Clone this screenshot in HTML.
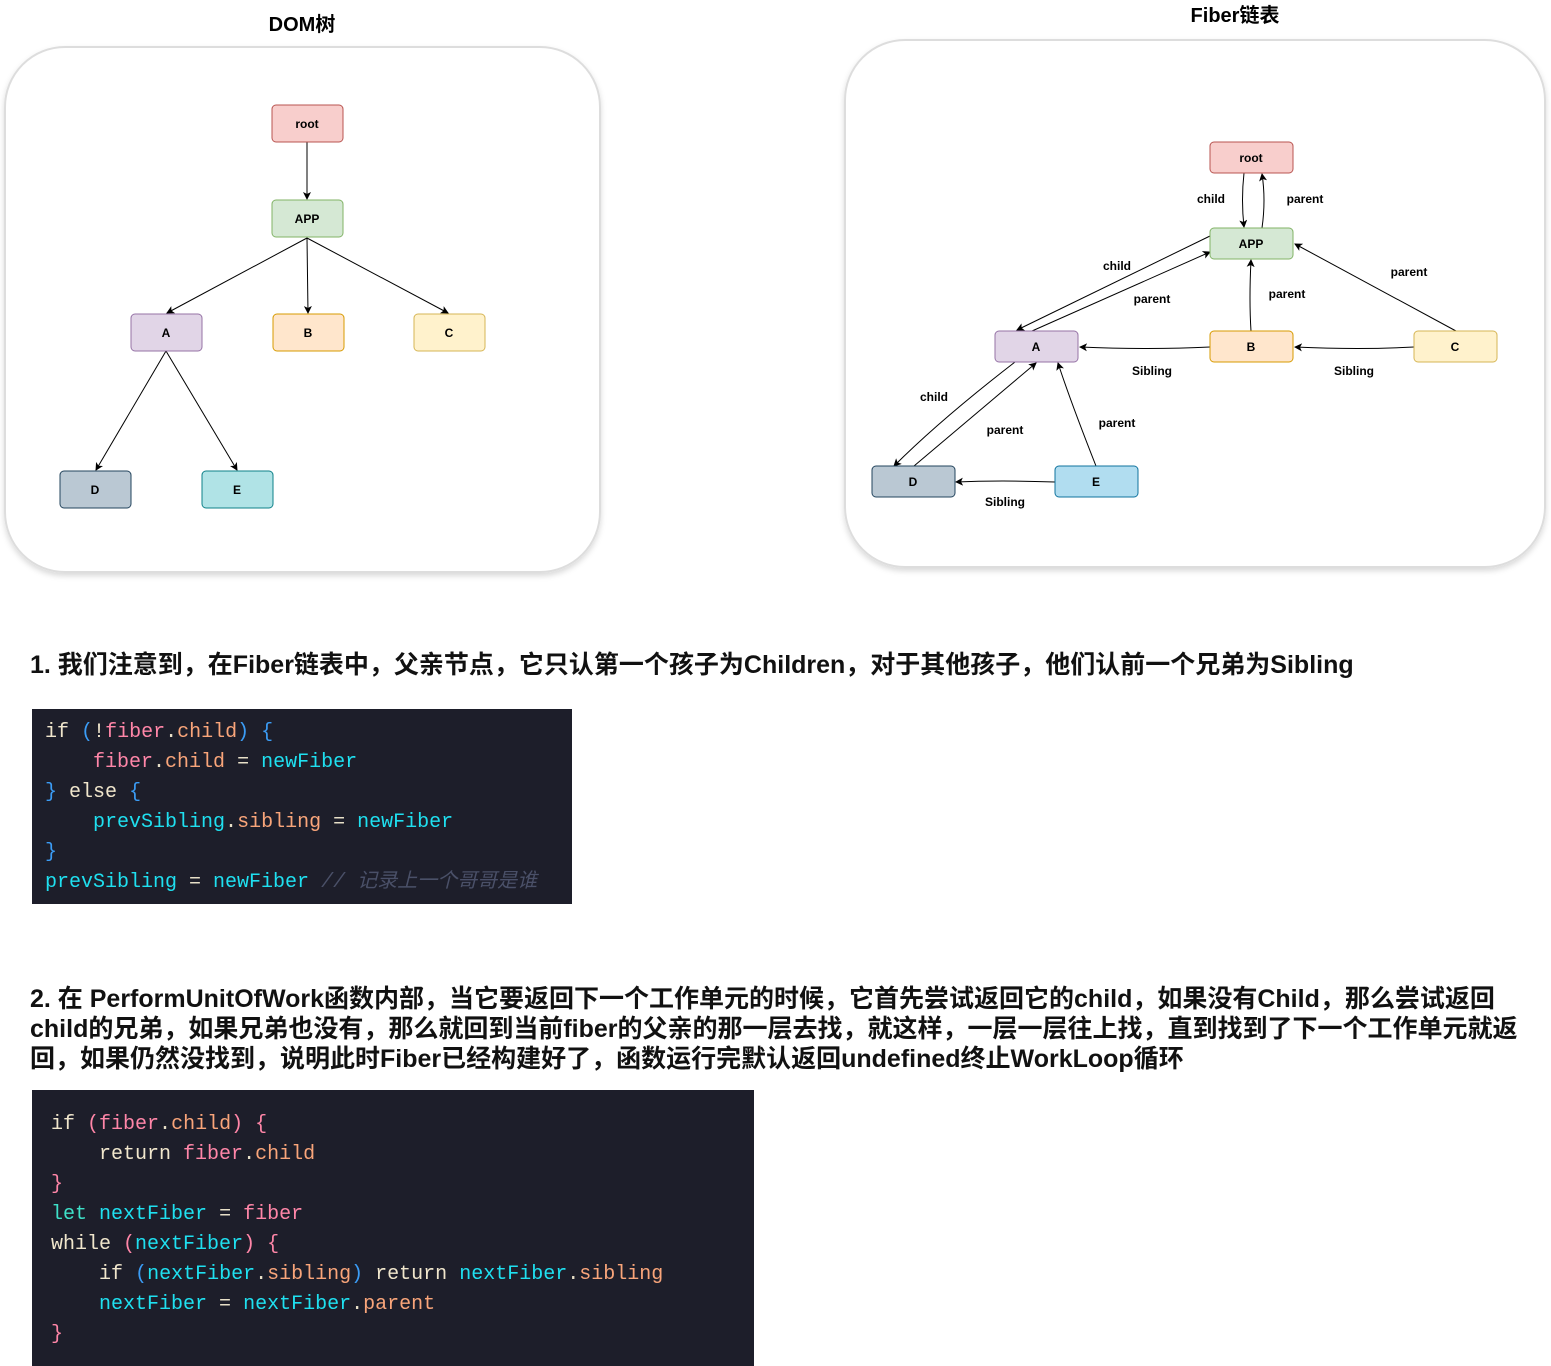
<!DOCTYPE html>
<html><head><meta charset="utf-8"><style>
body{margin:0;width:1551px;height:1366px;background:#fff;position:relative;overflow:hidden;font-family:"Liberation Sans","Noto Sans CJK SC",sans-serif}
.t{position:absolute;font-weight:bold;color:#111;font-size:25px;white-space:nowrap}
.code{position:absolute;background:#1d1e2a;font-family:"Liberation Mono","Noto Sans CJK SC",monospace;font-size:20px;line-height:30px;white-space:pre;color:#e8e0c8}
.k{color:#f0e6cc}.p{color:#ff86a8}.o{color:#f9a57a}.c{color:#1fe0f0}.b{color:#3b9cf5}.g{color:#4a5068;font-style:italic}.l{color:#3ee0c8}
</style></head><body>
<svg width="1551" height="600" style="position:absolute;left:0;top:0" font-family="Liberation Sans,sans-serif">
<defs><marker id="a" markerWidth="8" markerHeight="8" refX="7" refY="4" orient="auto"><path d="M0,0L8,4L0,8L2,4z" fill="#000"/></marker>
<filter id="s"><feDropShadow dx="0" dy="3" stdDeviation="3" flood-color="#000" flood-opacity="0.15"/></filter></defs>
<rect x="5" y="47" width="595" height="525" rx="60" fill="#fff" stroke="#ddd" stroke-width="2" filter="url(#s)"/>
<rect x="845" y="40" width="700" height="527" rx="60" fill="#fff" stroke="#ddd" stroke-width="2" filter="url(#s)"/>
<text x="302" y="31" font-size="20" font-weight="bold" text-anchor="middle" font-family="Liberation Sans,Noto Sans CJK SC,sans-serif">DOM树</text>
<text x="1235" y="22" font-size="20" font-weight="bold" text-anchor="middle" font-family="Liberation Sans,Noto Sans CJK SC,sans-serif">Fiber链表</text>
<g stroke="#000" stroke-width="1" fill="none" marker-end="url(#a)">
<line x1="307" y1="142" x2="307" y2="199"/>
<line x1="307" y1="238" x2="167" y2="313"/>
<line x1="307" y1="238" x2="308" y2="313"/>
<line x1="307" y1="238" x2="448" y2="313"/>
<line x1="166" y1="351" x2="96" y2="470"/>
<line x1="166" y1="351" x2="237" y2="470"/>
<path d="M1244,173 Q1241,200 1244,227"/>
<path d="M1262,228 Q1266,200 1262,174"/>
<path d="M1210,236 L1017,330"/>
<path d="M1032,331 L1210,252"/>
<path d="M1251,331 Q1249,300 1251,260"/>
<path d="M1456,331 L1295,244"/>
<path d="M1210,347 Q1150,350 1080,347"/>
<path d="M1414,347 Q1360,350 1295,347"/>
<path d="M1015,362 Q940,420 894,466"/>
<path d="M914,466 Q980,410 1036,363"/>
<path d="M1096,466 Q1070,400 1058,363"/>
<path d="M1055,482 Q1000,480 956,482"/>
</g>
<g font-size="12" font-weight="bold" text-anchor="middle">
<rect x="272" y="105" width="71" height="37" rx="4" fill="#f8cecc" stroke="#b85450"/><text x="307" y="128">root</text>
<rect x="272" y="200" width="71" height="37" rx="4" fill="#d5e8d4" stroke="#82b366"/><text x="307" y="223">APP</text>
<rect x="131" y="314" width="71" height="37" rx="4" fill="#e1d5e7" stroke="#9673a6"/><text x="166" y="337">A</text>
<rect x="273" y="314" width="71" height="37" rx="4" fill="#ffe6cc" stroke="#d79b00"/><text x="308" y="337">B</text>
<rect x="414" y="314" width="71" height="37" rx="4" fill="#fff2cc" stroke="#d6b656"/><text x="449" y="337">C</text>
<rect x="60" y="471" width="71" height="37" rx="4" fill="#bac8d3" stroke="#23445d"/><text x="95" y="494">D</text>
<rect x="202" y="471" width="71" height="37" rx="4" fill="#b0e3e6" stroke="#0e8088"/><text x="237" y="494">E</text>
<rect x="1210" y="142" width="83" height="31" rx="4" fill="#f8cecc" stroke="#b85450"/><text x="1251" y="162">root</text>
<rect x="1210" y="228" width="83" height="31" rx="4" fill="#d5e8d4" stroke="#82b366"/><text x="1251" y="248">APP</text>
<rect x="995" y="331" width="83" height="31" rx="4" fill="#e1d5e7" stroke="#9673a6"/><text x="1036" y="351">A</text>
<rect x="1210" y="331" width="83" height="31" rx="4" fill="#ffe6cc" stroke="#d79b00"/><text x="1251" y="351">B</text>
<rect x="1414" y="331" width="83" height="31" rx="4" fill="#fff2cc" stroke="#d6b656"/><text x="1455" y="351">C</text>
<rect x="872" y="466" width="83" height="31" rx="4" fill="#bac8d3" stroke="#23445d"/><text x="913" y="486">D</text>
<rect x="1055" y="466" width="83" height="31" rx="4" fill="#b1ddf0" stroke="#10739e"/><text x="1096" y="486">E</text>
</g>
<g font-size="12" font-weight="bold" text-anchor="middle">
<text x="1211" y="203">child</text><text x="1305" y="203">parent</text>
<text x="1117" y="270">child</text><text x="1152" y="303">parent</text>
<text x="1287" y="298">parent</text><text x="1409" y="276">parent</text>
<text x="1152" y="375">Sibling</text><text x="1354" y="375">Sibling</text>
<text x="934" y="401">child</text><text x="1005" y="434">parent</text>
<text x="1117" y="427">parent</text><text x="1005" y="506">Sibling</text>
</g>
</svg>
<div class="t" style="left:30px;top:650px;line-height:30px">1. 我们注意到，在Fiber链表中，父亲节点，它只认第一个孩子为Children，对于其他孩子，他们认前一个兄弟为Sibling</div>
<div class="code" style="left:32px;top:709px;width:540px;height:195px;padding:9px 0 0 13px;box-sizing:border-box"><span class="k">if</span> <span class="b">(</span><span class="k">!</span><span class="p">fiber</span>.<span class="o">child</span><span class="b">)</span> <span class="b">{</span>
    <span class="p">fiber</span>.<span class="o">child</span> = <span class="c">newFiber</span>
<span class="b">}</span> <span class="k">else</span> <span class="b">{</span>
    <span class="c">prevSibling</span>.<span class="o">sibling</span> = <span class="c">newFiber</span>
<span class="b">}</span>
<span class="c">prevSibling</span> = <span class="c">newFiber</span> <span class="g">// 记录上一个哥哥是谁</span></div>
<div class="t" style="left:30px;top:984px;line-height:30px">2. 在 PerformUnitOfWork函数内部，当它要返回下一个工作单元的时候，它首先尝试返回它的child，如果没有Child，那么尝试返回<br>child的兄弟，如果兄弟也没有，那么就回到当前fiber的父亲的那一层去找，就这样，一层一层往上找，直到找到了下一个工作单元就返<br>回，如果仍然没找到，说明此时Fiber已经构建好了，函数运行完默认返回undefined终止WorkLoop循环</div>
<div class="code" style="left:32px;top:1090px;width:722px;height:276px;padding:20px 0 0 19px;box-sizing:border-box"><span class="k">if</span> <span class="p">(fiber</span>.<span class="o">child</span><span class="p">)</span> <span class="p">{</span>
    <span class="k">return</span> <span class="p">fiber</span>.<span class="o">child</span>
<span class="p">}</span>
<span class="l">let</span> <span class="c">nextFiber</span> = <span class="p">fiber</span>
<span class="k">while</span> <span class="p">(</span><span class="c">nextFiber</span><span class="p">)</span> <span class="p">{</span>
    <span class="k">if</span> <span class="b">(</span><span class="c">nextFiber</span>.<span class="o">sibling</span><span class="b">)</span> <span class="k">return</span> <span class="c">nextFiber</span>.<span class="o">sibling</span>
    <span class="c">nextFiber</span> = <span class="c">nextFiber</span>.<span class="o">parent</span>
<span class="p">}</span></div>
</body></html>
